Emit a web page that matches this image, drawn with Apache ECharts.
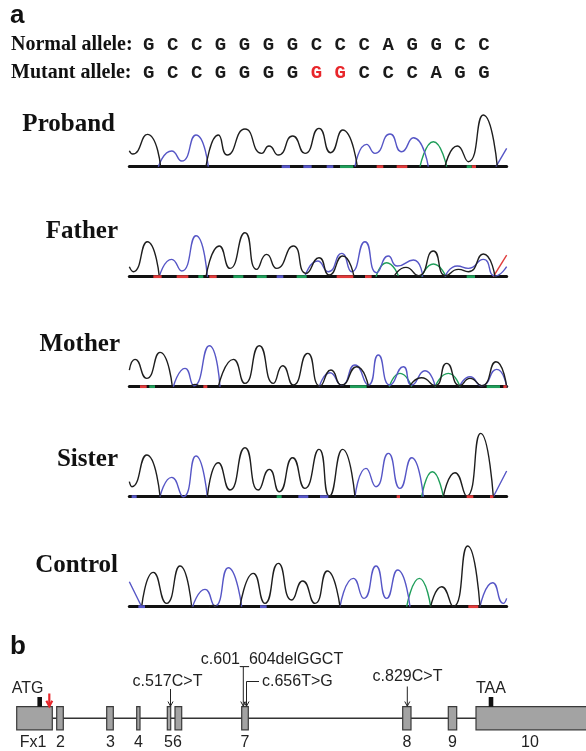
<!DOCTYPE html>
<html><head><meta charset="utf-8">
<script src="https://cdn.jsdelivr.net/npm/echarts@6/dist/echarts.min.js"></script>
<style>html,body{margin:0;padding:0;background:#fff}#c{width:586px;height:751px}</style>
</head><body><div id="c"></div>
<script>
// ---------- Panel a: sequences ----------
const seqNormal = ['G','C','C','G','G','G','G','C','C','C','A','G','G','C','C'];
const seqMutant = ['G','C','C','G','G','G','G','G','G','C','C','C','A','G','G'];
const mutantInserted = [7, 8];
const sampleNames = ['Proband','Father','Mother','Sister','Control'];

// ---------- chromatogram traces: segments of [scan position, signal] ----------
const probandG = [[[28,48],[38,38],[82,97],[122,0]],
  [[258,0],[295,95],[322,35],[375,113],[425,40],[447,62],[475,35],[518,92],[555,40],[597,115],[632,42],[668,110],[712,0]],
  [[975,0],[1012,62],[1045,15],[1090,155],[1132,0]]];
const probandC = [[[115,0],[155,47],[185,17],[228,95],[265,0]],
  [[705,0],[740,67],[765,40],[810,98],[845,45],[880,87],[925,0]],
  [[1128,0],[1160,55]]];
const probandA = [[[900,0],[940,75],[980,0]]];
const probandT = [];
const probandBits = {C:[[485,510],[550,575],[620,640]], A:[[660,700],[1040,1055]], T:[[770,790],[830,862],[1055,1068]]};

const fatherG = [[[28,30],[40,15],[82,105],[118,0]],
  [[258,0],[298,92],[330,25],[375,132],[410,22],[440,67],[470,25],[520,92],[558,10],[597,57],[628,5],[668,62],[702,0]],
  [[822,0],[858,28],[895,3],[940,77],[978,3],[1015,22],[1045,15],[1090,68],[1125,0]]];
const fatherC = [[[118,0],[155,52],[185,17],[228,123],[262,0]],
  [[555,2],[593,47],[625,15],[665,70],[695,15],[735,105],[770,12],[805,62],[832,32],[880,50],[908,0]],
  [[975,0],[1012,32],[1045,25],[1090,52],[1125,2],[1160,30]]];
const fatherA = [[[768,0],[800,42],[835,3]], [[905,0],[940,38],[978,0]]];
const fatherT = [[[1120,0],[1160,65]]];
const fatherBits = {T:[[100,125],[170,205],[268,290],[650,700],[735,755]], A:[[235,250],[340,370],[410,440],[530,560],[1040,1065]], C:[[470,490]]};

const motherG = [[[28,50],[45,82],[80,25],[120,103],[157,0]], [[210,0],[225,7],[240,0]],
  [[295,0],[340,82],[375,10],[418,123],[460,10],[488,63],[520,5],[563,100],[600,2],[633,50],[665,5],[710,60],[745,3]],
  [[870,3],[905,27],[945,3],[980,70],[1020,3],[1050,25],[1085,3],[1128,75],[1160,0]]];
const motherC = [[[160,0],[195,55],[222,3],[268,123],[300,0]],
  [[598,0],[630,42],[665,5],[705,65],[745,5],[775,95],[810,5],[850,60],[875,5],[915,48],[945,3]],
  [[1020,3],[1050,30],[1085,3],[1130,52],[1160,0]]];
const motherA = [[[808,0],[840,40],[875,0]], [[945,0],[985,40],[1020,0]]];
const motherT = [];
const motherBits = {T:[[60,80],[250,262],[1150,1160]], A:[[88,105],[690,740],[1100,1140]]};

const sisterG = [[[28,45],[36,30],[80,125],[120,2]],
  [[262,0],[295,102],[330,20],[375,147],[415,20],[448,82],[478,15],[518,117],[555,25],[597,142],[628,2],[668,142],[705,0]],
  [[970,0],[1005,72],[1040,2],[1082,190],[1120,0]]];
const sisterC = [[[120,0],[155,58],[190,0],[228,122],[262,0]],
  [[705,0],[738,85],[768,30],[805,130],[840,25],[875,117],[910,0]],
  [[1120,0],[1160,77]]];
const sisterA = [[[905,0],[937,75],[970,0]]];
const sisterT = [];
const sisterBits = {C:[[35,50],[535,565],[600,625]], A:[[470,485]], T:[[830,840],[1040,1060],[1110,1120]]};

const controlG = [[[65,0],[100,103],[140,10],[180,122],[215,0]], [[268,0],[280,4],[292,0]],
  [[360,0],[400,100],[435,10],[475,130],[515,20],[548,77],[585,10],[622,107],[660,0]],
  [[932,0],[965,60],[1000,0],[1043,182],[1080,0]]];
const controlC = [[[28,75],[65,0]], [[218,0],[255,52],[285,2],[325,117],[365,0]],
  [[660,0],[700,85],[732,25],[768,122],[800,25],[833,110],[870,0]],
  [[1080,0],[1118,72],[1150,10],[1160,25]]];
const controlA = [[[860,0],[898,85],[932,0]]];
const controlT = [];
const controlBits = {C:[[55,75],[420,440]], T:[[1045,1075]]};

// ---------- Panel b: gene structure ----------
const exonNames  = ['Fx1','2','3','4','5','6','7','8','9','10'];
const exonStart  = [16.7, 56.7, 106.7, 136.7, 167.3, 175, 241.7, 402.7, 448.3, 476];
const exonEnd    = [52.3, 63.3, 113.3, 140, 170.7, 181.7, 248.3, 411, 456.7, 600];
const exonTickLabels = ['Fx1','2','3','4','56','7','8','9','10'];
const exonTickPos    = [33, 60.5, 110.5, 138.5, 173, 245, 407, 452.5, 530];
const codonLabels = ['ATG','TAA'];
const codonPos    = [39.7, 491];
const mutLabels = ['c.517C>T','c.601_604delGGCT','c.656T>G','c.829C>T'];
const mutPos    = [170.5, 243.3, 246.5, 407.3];
const novelMutPos = 49.3;

// ---------- build ----------
const COLORS = {G:'#1e1e1e', C:'#5656c6', A:'#1f9e5a', T:'#e03a3a'};
const traces = [
  {G:probandG, C:probandC, A:probandA, T:probandT, bits:probandBits},
  {G:fatherG, C:fatherC, A:fatherA, T:fatherT, bits:fatherBits},
  {G:motherG, C:motherC, A:motherA, T:motherT, bits:motherBits},
  {G:sisterG, C:sisterC, A:sisterA, T:sisterT, bits:sisterBits},
  {G:controlG, C:controlC, A:controlA, T:controlT, bits:controlBits}
];
const baselines = [166.7, 276.7, 386.7, 496.7, 606.7];
const labelRight = [115, 118, 120, 118, 118];
const labelY = [125, 232, 345, 460, 566];

function flatten(segs){
  const out=[];
  segs.forEach((s,k)=>{ if(k) out.push([s[0][0]-0.5,'-']); s.forEach(p=>out.push(p)); });
  return out;
}
function bitsData(b){
  const out=[];
  (b||[]).forEach((r,k)=>{ if(k) out.push([r[0]-0.5,'-']); out.push([r[0],0]); out.push([r[1],0]); });
  return out;
}

const grids=[], xAxes=[], yAxes=[], series=[];
traces.forEach((tr,i)=>{
  grids.push({left:129.33, width:377.33, top:baselines[i]-70, height:70});
  xAxes.push({type:'value', gridIndex:i, min:28, max:1160,
    axisLine:{show:true, onZero:false, lineStyle:{color:'#111', width:3}},
    axisTick:{show:false}, axisLabel:{show:false}, splitLine:{show:false}});
  yAxes.push({type:'value', gridIndex:i, min:0, max:210, show:false});
  ['T','A','C','G'].forEach(ch=>{
    if (tr[ch].length) series.push({type:'line', xAxisIndex:i, yAxisIndex:i, data:flatten(tr[ch]),
      smooth:0.6, symbol:'none', connectNulls:false, silent:true, clip:false,
      lineStyle:{color:COLORS[ch], width:1.4}, z:3});
    if (tr.bits[ch]) series.push({type:'line', xAxisIndex:i, yAxisIndex:i, data:bitsData(tr.bits[ch]),
      symbol:'none', connectNulls:false, silent:true, lineStyle:{color:COLORS[ch], width:3}, z:4});
  });
});

// sequence grid
const SEQ = 5;
grids.push({left:136.7, width:359.3, top:31, height:56});
xAxes.push({type:'value', gridIndex:SEQ, min:-0.5, max:14.5, show:false});
yAxes.push({type:'category', gridIndex:SEQ, data:['Normal','Mutant'], inverse:true, show:false});
const seqData = [];
seqNormal.forEach((l,k)=>seqData.push([k,0]));
seqMutant.forEach((l,k)=>seqData.push([k,1]));
series.push({type:'custom', xAxisIndex:SEQ, yAxisIndex:SEQ, data:seqData, silent:true,
  renderItem:(params, api)=>{
    const idx = params.dataIndex; const row = idx < seqNormal.length ? 0 : 1;
    const k = row ? idx - seqNormal.length : idx;
    const letter = row ? seqMutant[k] : seqNormal[k];
    const red = row === 1 && mutantInserted.indexOf(k) >= 0;
    const p = api.coord([api.value(0), api.value(1)]);
    return {type:'text', x:p[0], y:p[1], style:{text:letter, font:'bold 19px "Liberation Mono", monospace',
      fill: red ? '#e8262b' : '#1a1a1a', align:'center', verticalAlign:'middle'}};
  }});

// gene grid
const GENE = 6;
grids.push({left:0, width:586, top:630, height:121});
xAxes.push({type:'value', gridIndex:GENE, min:0, max:586, show:false});
yAxes.push({type:'value', gridIndex:GENE, min:630, max:751, inverse:true, show:false});
const LINE_Y = 718.3, BOX_T = 706.7, BOX_B = 729.8;
const FONT = '16px "Liberation Sans", Arial, sans-serif';
const INK = '#222';

series.push({type:'custom', xAxisIndex:GENE, yAxisIndex:GENE, data:[[exonEnd[0], exonStart[exonStart.length-1]]], silent:true, z:2,
  renderItem:(p, api)=>{ const a=api.coord([api.value(0),LINE_Y]), b=api.coord([api.value(1),LINE_Y]);
    return {type:'line', shape:{x1:a[0],y1:a[1],x2:b[0],y2:b[1]}, style:{stroke:'#333', lineWidth:1.5}}; }});
series.push({type:'custom', xAxisIndex:GENE, yAxisIndex:GENE, data:exonStart.map((s,k)=>[s, exonEnd[k]]), silent:true, z:3,
  renderItem:(p, api)=>{ const a=api.coord([api.value(0),BOX_T]), b=api.coord([api.value(1),BOX_B]);
    return {type:'rect', shape:{x:a[0], y:a[1], width:b[0]-a[0], height:b[1]-a[1]}, style:{fill:'#a3a3a3', stroke:'#3a3a3a', lineWidth:1.2}}; }});
series.push({type:'custom', xAxisIndex:GENE, yAxisIndex:GENE, data:exonTickPos.map((x,k)=>[x,k]), silent:true, z:3,
  renderItem:(p, api)=>{ const a=api.coord([api.value(0),743]);
    return {type:'text', x:a[0], y:a[1], style:{text:exonTickLabels[p.dataIndex], font:FONT, fill:INK, align:'center', verticalAlign:'middle'}}; }});
series.push({type:'custom', xAxisIndex:GENE, yAxisIndex:GENE, data:codonPos.map((x,k)=>[x,k]), silent:true, z:4,
  renderItem:(p, api)=>{ const x=api.value(0); const a=api.coord([x-2.3,697]), b=api.coord([x+2.3,BOX_T]);
    const tx = p.dataIndex===0 ? x-12.2 : x;
    const t=api.coord([tx,688.5]);
    return {type:'group', children:[
      {type:'rect', shape:{x:a[0], y:a[1], width:b[0]-a[0], height:b[1]-a[1]}, style:{fill:'#111'}},
      {type:'text', x:t[0], y:t[1], style:{text:codonLabels[p.dataIndex], font:FONT, fill:INK, align:'center', verticalAlign:'middle'}}
    ]}; }});
const mutLayout = [
  {tx:167.5, ty:682, top:689, align:'center'},
  {tx:272, ty:660, top:667, align:'center'},
  {tx:262, ty:681.5, top:681.5, align:'left', bracket:true},
  {tx:407.5, ty:677, top:686.5, align:'center'}
];
function arrowHead(x, y, s, color, w){
  return {type:'polyline', shape:{points:[[x-s*0.7,y-s*1.3],[x,y],[x+s*0.7,y-s*1.3]]}, style:{stroke:color, lineWidth:w, fill:null}};
}
series.push({type:'custom', xAxisIndex:GENE, yAxisIndex:GENE, data:mutPos.map((x,k)=>[x,k]), silent:true, z:5,
  renderItem:(p, api)=>{ const L=mutLayout[p.dataIndex]; const x=api.value(0);
    const top=api.coord([x,L.top]), bot=api.coord([x,BOX_T-0.5]); const t=api.coord([L.tx,L.ty]);
    const ch=[{type:'line', shape:{x1:top[0],y1:top[1],x2:bot[0],y2:bot[1]}, style:{stroke:'#222', lineWidth:1}},
      arrowHead(bot[0], bot[1], 3.6, '#222', 1),
      {type:'text', x:t[0], y:t[1], style:{text:mutLabels[p.dataIndex], font:FONT, fill:INK, align:L.align, verticalAlign:'middle'}}];
    if (L.bracket){ const e=api.coord([L.tx-3,L.top]); ch.push({type:'line', shape:{x1:top[0],y1:top[1],x2:e[0],y2:e[1]}, style:{stroke:'#222', lineWidth:1}}); }
    return {type:'group', children:ch}; }});
series.push({type:'custom', xAxisIndex:GENE, yAxisIndex:GENE, data:[[novelMutPos,0]], silent:true, z:6,
  renderItem:(p, api)=>{ const x=api.value(0); const a=api.coord([x,693.5]), b=api.coord([x,706.2]);
    return {type:'group', children:[
      {type:'line', shape:{x1:a[0],y1:a[1],x2:b[0],y2:b[1]}, style:{stroke:'#e8262b', lineWidth:2.2}},
      arrowHead(b[0], b[1], 4.2, '#e8262b', 2.2)]}; }});

const serif = '"Liberation Serif", "Times New Roman", serif';
const graphics = [
  {type:'text', x:10, y:16, style:{text:'a', font:'bold 26px "Liberation Sans", Arial, sans-serif', fill:'#111', verticalAlign:'middle'}},
  {type:'text', x:10, y:647, style:{text:'b', font:'bold 26px "Liberation Sans", Arial, sans-serif', fill:'#111', verticalAlign:'middle'}},
  {type:'text', x:11, y:45, style:{text:'Normal allele:', font:'bold 20px '+serif, fill:'#111', verticalAlign:'middle'}},
  {type:'text', x:11, y:73, style:{text:'Mutant allele:', font:'bold 20px '+serif, fill:'#111', verticalAlign:'middle'}}
];
sampleNames.forEach((n,i)=>graphics.push({type:'text', x:labelRight[i], y:labelY[i],
  style:{text:n, font:'bold 25px '+serif, fill:'#111', align:'right', verticalAlign:'middle'}}));

const chart = echarts.init(document.getElementById('c'), null, {renderer:'canvas', width:586, height:751});
chart.setOption({animation:false, backgroundColor:'#fff', grid:grids, xAxis:xAxes, yAxis:yAxes, series:series, graphic:graphics});
</script></body></html>
